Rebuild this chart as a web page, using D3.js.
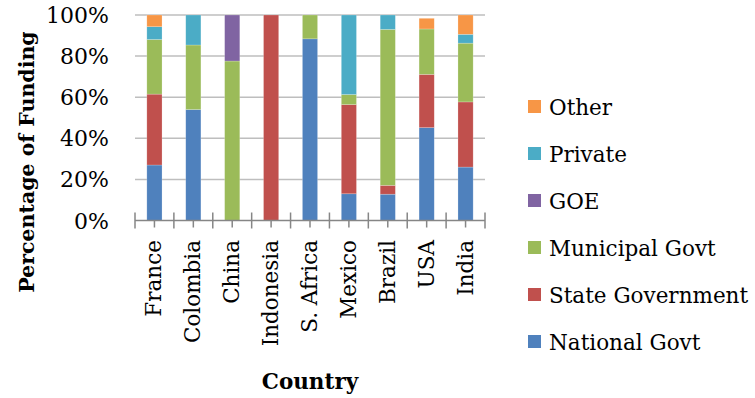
<!DOCTYPE html>
<html>
<head>
<meta charset="utf-8">
<script src="https://cdn.jsdelivr.net/npm/d3@7"></script>
<style>
  html, body { margin: 0; padding: 0; background: #fff; }
  svg { display: block; }
  text { font-family: "DejaVu Serif", "Liberation Serif", serif; fill: #000; }
</style>
</head>
<body>
<svg id="chart" width="755" height="398"></svg>
<script>
// Funding sources by country (percent of total)
const countries = ["France", "Colombia", "China", "Indonesia", "S. Africa", "Mexico", "Brazil", "USA", "India"];
const nationalGovt   = [27.0, 54.0, 0, 0, 88.4, 13.0, 12.8, 45.2, 26.0];
const stateGovt      = [34.5, 0, 0, 100, 0, 43.4, 4.3, 25.9, 31.7];
const municipalGovt  = [26.6, 31.4, 77.6, 0, 11.6, 4.9, 75.9, 22.1, 28.6];
const goe            = [0, 0, 22.4, 0, 0, 0, 0, 0, 0];
const privateFunds   = [6.2, 14.6, 0, 0, 0, 38.7, 7.0, 0, 4.3];
const other          = [5.7, 0, 0, 0, 0, 0, 0, 5.2, 9.4];

const seriesNames = ["National Govt", "State Government", "Municipal Govt", "GOE", "Private", "Other"];
const seriesValues = [nationalGovt, stateGovt, municipalGovt, goe, privateFunds, other];
const seriesColors = ["#4F81BD", "#C0504D", "#9BBB59", "#8064A2", "#4BACC6", "#F79646"];
const yTicks = [0, 20, 40, 60, 80, 100];

const svg = d3.select("#chart");
const plot = { left: 135, right: 485, top: 15, bottom: 220.5 };

const x = d3.scaleBand().domain(countries).range([plot.left, plot.right]).padding(0);
const y = d3.scaleLinear().domain([0, 100]).range([plot.bottom, plot.top]);
const barW = x.bandwidth() * 0.39;

// table rows for d3.stack
const rows = countries.map((c, i) => {
  const r = { country: c };
  seriesNames.forEach((s, k) => { r[s] = seriesValues[k][i]; });
  return r;
});
const stacked = d3.stack().keys(seriesNames)(rows);

// gridlines
svg.append("g")
  .selectAll("line")
  .data(yTicks.filter(t => t > 0))
  .join("line")
  .attr("x1", plot.left).attr("x2", plot.right)
  .attr("y1", d => y(d)).attr("y2", d => y(d))
  .attr("stroke", "#BEBEBE").attr("stroke-width", 1.5);

// y tick labels
svg.append("g")
  .selectAll("text")
  .data(yTicks)
  .join("text")
  .attr("x", 109)
  .attr("y", d => y(d) + 8)
  .attr("text-anchor", "end")
  .attr("font-size", 22)
  .text(d => d + "%");

// stacked bars
svg.append("g")
  .selectAll("g")
  .data(stacked)
  .join("g")
  .attr("fill", (d, i) => seriesColors[i])
  .selectAll("rect")
  .data(d => d.filter(p => p[1] - p[0] > 0))
  .join("rect")
  .attr("x", d => x(d.data.country) + (x.bandwidth() - barW) / 2)
  .attr("width", barW)
  .attr("y", d => y(d[1]))
  .attr("height", d => y(d[0]) - y(d[1]))
  .attr("stroke", "rgba(255,255,255,0.35)")
  .attr("stroke-width", 0.6);

// x axis line and ticks
const axisG = svg.append("g").attr("stroke", "#868686").attr("stroke-width", 1.5);
axisG.append("line")
  .attr("x1", plot.left).attr("x2", plot.right)
  .attr("y1", plot.bottom).attr("y2", plot.bottom);
const bounds = countries.map(c => x(c)).concat([x.range()[1]]);
axisG.selectAll("line.b")
  .data(bounds)
  .join("line").attr("class", "b")
  .attr("x1", d => d).attr("x2", d => d)
  .attr("y1", plot.bottom - 8).attr("y2", plot.bottom + 8);
axisG.selectAll("line.c")
  .data(countries)
  .join("line").attr("class", "c")
  .attr("x1", d => x(d) + x.bandwidth() / 2).attr("x2", d => x(d) + x.bandwidth() / 2)
  .attr("y1", plot.bottom).attr("y2", plot.bottom + 7);

// category labels
svg.append("g")
  .selectAll("text")
  .data(countries)
  .join("text")
  .attr("transform", d => `translate(${x(d) + x.bandwidth() / 2 + 7},240) rotate(-90)`)
  .attr("text-anchor", "end")
  .attr("font-size", 21.5)
  .text(d => d);

// axis titles
svg.append("text")
  .attr("x", 310).attr("y", 389)
  .attr("text-anchor", "middle")
  .attr("font-size", 21.5)
  .attr("font-weight", "bold")
  .text("Country");

svg.append("text")
  .attr("transform", "translate(34,162) rotate(-90)")
  .attr("text-anchor", "middle")
  .attr("font-size", 20.5)
  .attr("font-weight", "bold")
  .text("Percentage of Funding");

// legend (top entry is the last series)
const legend = svg.append("g")
  .selectAll("g")
  .data(seriesNames.map((s, i) => ({ name: s, color: seriesColors[i] })).reverse())
  .join("g")
  .attr("transform", (d, i) => `translate(528,${107 + i * 47})`);
legend.append("rect")
  .attr("x", 0).attr("y", -7)
  .attr("width", 13).attr("height", 13)
  .attr("fill", d => d.color);
legend.append("text")
  .attr("x", 21).attr("y", 8)
  .attr("font-size", 21.5)
  .text(d => d.name);
</script>
</body>
</html>
